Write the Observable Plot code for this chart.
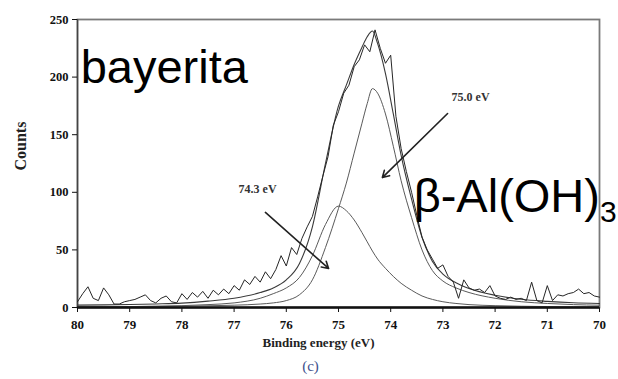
<!DOCTYPE html>
<html>
<head>
<meta charset="utf-8">
<script src="https://cdn.jsdelivr.net/npm/d3@7"></script>
<script src="https://cdn.jsdelivr.net/npm/@observablehq/plot@0.6"></script>
<style>
  body { margin: 0; background: #fff; }
  #chart svg { display: block; }
</style>
</head>
<body>
<div id="chart"></div>
<script>
// Al 2p XPS scan of bayerite: raw counts, two fitted components and their sum.
const energy = [
  80.0, 79.9, 79.8, 79.7, 79.6, 79.5, 79.4, 79.3, 79.2, 79.1,
  79.0, 78.9, 78.8, 78.7, 78.6, 78.5, 78.4, 78.3, 78.2, 78.1,
  78.0, 77.9, 77.8, 77.7, 77.6, 77.5, 77.4, 77.3, 77.2, 77.1,
  77.0, 76.9, 76.8, 76.7, 76.6, 76.5, 76.4, 76.3, 76.2, 76.1,
  76.0, 75.9, 75.8, 75.7, 75.6, 75.5, 75.4, 75.3, 75.2, 75.1,
  75.0, 74.9, 74.8, 74.7, 74.6, 74.5, 74.4, 74.3, 74.2, 74.1,
  74.0, 73.9, 73.8, 73.7, 73.6, 73.5, 73.4, 73.3, 73.2, 73.1,
  73.0, 72.9, 72.8, 72.7, 72.6, 72.5, 72.4, 72.3, 72.2, 72.1,
  72.0, 71.9, 71.8, 71.7, 71.6, 71.5, 71.4, 71.3, 71.2, 71.1,
  71.0, 70.9, 70.8, 70.7, 70.6, 70.5, 70.4, 70.3, 70.2, 70.1,
  70.0
];
const counts = [
  5, 12, 18, 8, 6, 17, 11, 3, 3, 5,
  6, 7, 9, 11, 6, 4, 8, 10, 5, 4,
  12, 7, 13, 9, 14, 8, 15, 11, 16, 12,
  19, 15, 24, 20, 27, 22, 31, 25, 33, 45,
  36, 52, 46, 60, 70, 79, 96, 114, 131, 158,
  170, 186, 193, 209, 215, 228, 222, 241, 225, 212,
  219, 166, 138, 118, 100, 80, 61, 50, 42, 34,
  37, 27, 22, 8, 24, 17, 15, 16, 13, 19,
  10, 8, 7, 9, 7, 8, 6, 22, 6, 4,
  19, 6, 11, 10, 12, 13, 16, 12, 13, 10,
  9
];

// Fitted curves, sampled more densely around the peaks
const fitEnergy = [80, 79.5, 79, 78.5, 78, 77.5, 77, 76.5, 76.25, 76, 75.75, 75.5, 75.25, 75,
  74.85, 74.7, 74.55, 74.45, 74.35, 74.25, 74.1, 73.95, 73.8, 73.6, 73.4, 73.2, 73,
  72.75, 72.5, 72, 71.5, 71, 70.5, 70];
const componentA = [0.5, 0.6, 0.8, 1.1, 1.6, 2.5, 4, 8, 12, 17, 26, 45, 72, 88,
  84, 76, 65, 57, 49, 42, 34, 27, 21, 15, 10, 7, 5,
  3.5, 2.5, 1.6, 1.1, 0.8, 0.6, 0.5];
const componentB = [0.6, 0.7, 0.8, 1, 1.2, 1.5, 2, 3, 4, 6, 11, 24, 52, 86,
  108, 134, 160, 177, 190, 186, 168, 140, 110, 78, 50, 32, 23,
  17, 13, 8, 5, 3.5, 2.5, 2];
const envelope = [2.1, 2.3, 2.6, 3.1, 3.8, 5.5, 8, 13, 17, 24, 38, 70, 125, 175,
  193, 211, 226, 235, 240, 229, 203, 168, 132, 94, 61, 40, 29,
  21.5, 16.5, 10.6, 7.1, 5.3, 4.1, 3.5];

const xTicks = [80, 79, 78, 77, 76, 75, 74, 73, 72, 71, 70];
const yTicks = [0, 50, 100, 150, 200, 250];

// Peak callouts: label position and arrow, in data units
const callouts = [
  {label: "74.3 eV", lx: 76.55, ly: 103, x1: 76.40, y1: 82.5, x2: 75.19, y2: 33.9},
  {label: "75.0 eV", lx: 72.47, ly: 183, x1: 72.91, y1: 168.4, x2: 74.16, y2: 112.8}
];

const scan = energy.map((e, i) => ({e, c: counts[i]}));
const fit = fitEnergy.map((e, i) => ({e, a: componentA[i], b: componentB[i], s: envelope[i]}));

const serif = '"Liberation Serif", "Times New Roman", serif';
const sans = '"Liberation Sans", Arial, Helvetica, sans-serif';

const chart = Plot.plot({
  width: 618,
  height: 379,
  marginLeft: 77,
  marginRight: 19,
  marginTop: 19,
  marginBottom: 72,
  style: {fontFamily: serif, fontSize: "12px", fontWeight: "bold", background: "#fff", color: "#111"},
  x: {domain: [80, 70], label: null},
  y: {domain: [0, 250], label: null},
  marks: [
    Plot.frame({stroke: "#7a7a7a", strokeWidth: 1.8}),
    Plot.ruleX([80], {stroke: "#444", strokeWidth: 1.4}),
    Plot.axisX(xTicks, {tickSize: 5, tickPadding: 7, fontSize: 13, fontWeight: "bold", label: null}),
    Plot.axisY(yTicks, {tickSize: 5, tickPadding: 4, fontSize: 12.5, fontWeight: "bold", label: null}),
    Plot.line(fit, {x: "e", y: "a", curve: "monotone-x", stroke: "#5a5a5a", strokeWidth: 1}),
    Plot.line(fit, {x: "e", y: "b", curve: "monotone-x", stroke: "#5a5a5a", strokeWidth: 1}),
    Plot.line(fit, {x: "e", y: "s", curve: "monotone-x", stroke: "#3a3a3a", strokeWidth: 1.1}),
    Plot.line(scan, {x: "e", y: "c", stroke: "#262626", strokeWidth: 1}),
    Plot.ruleY([0], {stroke: "#111", strokeWidth: 2.6}),
    Plot.arrow(callouts, {x1: "x1", y1: "y1", x2: "x2", y2: "y2", stroke: "#222", strokeWidth: 1.6, headLength: 7}),
    Plot.text(callouts, {x: "lx", y: "ly", text: "label", fontSize: 12, fontWeight: "bold", fill: "#333"}),
    Plot.text(["bayerita"], {x: 79.94, y: 195.3, text: d => d, textAnchor: "start", lineAnchor: "bottom",
      fontFamily: sans, fontWeight: "normal", fontSize: 47, fill: "#000"}),
    Plot.text(["β-Al(OH)"], {x: 73.56, y: 82.5, text: d => d, textAnchor: "start", lineAnchor: "bottom",
      fontFamily: sans, fontWeight: "normal", fontSize: 47, fill: "#000"}),
    Plot.text(["Counts"], {frameAnchor: "left", rotate: -90, dx: -57, dy: 7, fontSize: 16, fontWeight: "bold", fill: "#222"}),
    Plot.text(["Binding energy (eV)"], {frameAnchor: "bottom", dx: -20, dy: 39, fontSize: 13, fontWeight: "bold", fill: "#222"}),
    Plot.text(["(c)"], {frameAnchor: "bottom", dx: -28, dy: 63, fontSize: 15, fontWeight: "normal", fill: "#3d4f8c"})
  ]
});

// subscript 3 on the hydroxide formula
d3.select(chart).selectAll("text")
  .filter(function () { return this.textContent === "β-Al(OH)"; })
  .append("tspan")
  .attr("dy", 10)
  .attr("font-size", 30)
  .text("3");

document.getElementById("chart").appendChild(chart);
</script>
</body>
</html>
